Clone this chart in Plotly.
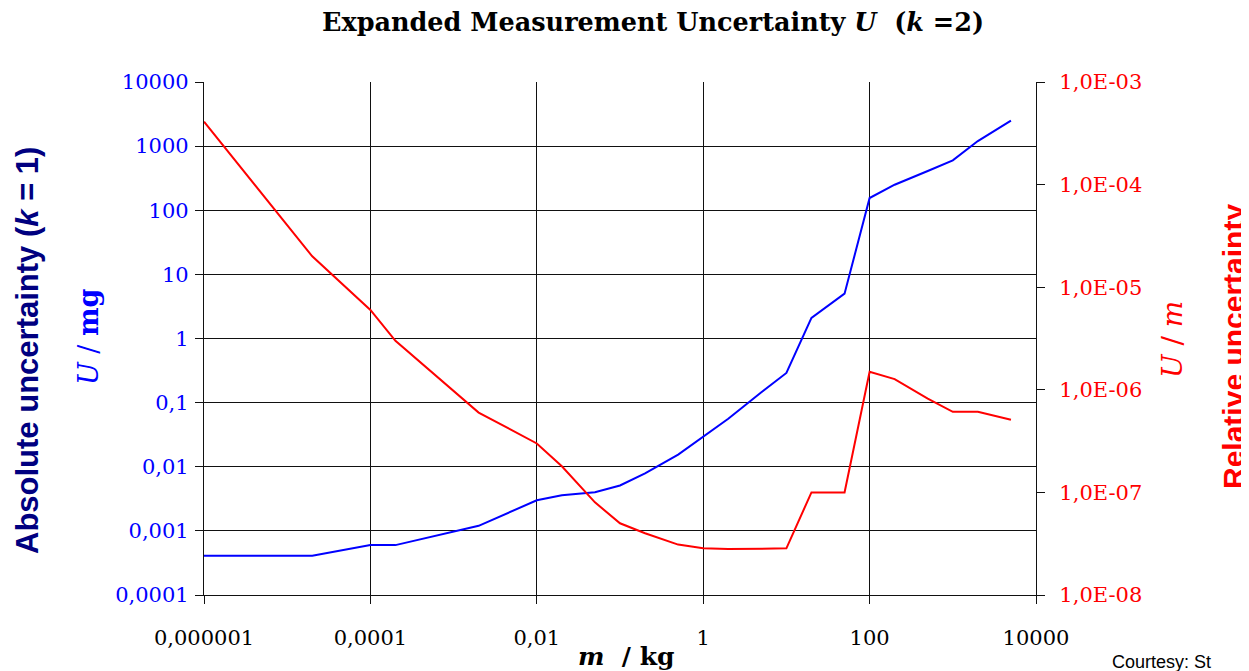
import plotly.graph_objects as go

# ---- data ----
mass_kg = [1e-6, 2e-5, 1e-4, 2e-4, 2e-3, 1e-2, 2e-2, 5e-2, 0.1, 0.2, 0.5, 1, 2, 5, 10,
           20, 50, 100, 200, 500, 1000, 2000, 5000]
abs_U_mg = [4.1e-4, 4.1e-4, 6e-4, 6e-4, 1.2e-3, 3e-3, 3.6e-3, 4e-3, 5.1e-3, 7.9e-3, 0.0155,
            0.029, 0.056, 0.145, 0.29, 2.1, 5, 155, 250, 410, 600, 1200, 2500]
rel_U = [4.1e-4, 2e-5, 6e-6, 3e-6, 6e-7, 3e-7, 1.8e-7, 8e-8, 5e-8, 4e-8, 3.1e-8,
         2.85e-8, 2.8e-8, 2.85e-8, 2.85e-8, 1e-7, 1e-7, 1.5e-6, 1.27e-6, 8.2e-7, 6.1e-7,
         6.1e-7, 5.1e-7]

x_tickvals = [1e-6, 1e-4, 1e-2, 1, 100, 1e4]
x_ticktext = ["0,000001", "0,0001", "0,01", "1", "100", "10000"]
y_tickvals = [1e-4, 1e-3, 1e-2, 1e-1, 1, 10, 100, 1000, 10000]
y_ticktext = ["0,0001", "0,001", "0,01", "0,1", "1", "10", "100", "1000", "10000"]
y2_tickvals = [1e-8, 1e-7, 1e-6, 1e-5, 1e-4, 1e-3]
y2_ticktext = ["1,0E-08", "1,0E-07", "1,0E-06", "1,0E-05", "1,0E-04", "1,0E-03"]

# page body has an 8px margin: work in window pixels and shift
OFF = 8
W, H = 1249, 671
pL, pR, pT, pB = 204, 1036, 82, 595          # plot area in window pixels
L, T = pL - OFF, pT - OFF
pw, ph = pR - pL, pB - pT
R, B = W - L - pw, H - T - ph

def px(x):
    return (x - pL) / pw

def py(y):
    return (pB - y) / ph

SERIF = "DejaVu Serif"
SANS = "Liberation Sans"
GRID = "#111"

fig = go.Figure()
fig.add_trace(go.Scatter(x=mass_kg, y=abs_U_mg, mode="lines",
                         line=dict(color="#0000FF", width=2), yaxis="y", showlegend=False))
fig.add_trace(go.Scatter(x=mass_kg, y=rel_U, mode="lines",
                         line=dict(color="#FF0000", width=2), yaxis="y2", showlegend=False))

fig.update_layout(
    width=W, height=H,
    margin=dict(l=L, r=R, t=T, b=B),
    paper_bgcolor="white", plot_bgcolor="white",
    xaxis=dict(type="log", range=[-6, 4], tickvals=x_tickvals, ticktext=x_ticktext,
               showgrid=True, gridcolor=GRID, gridwidth=1.3,
               showline=True, linecolor=GRID, linewidth=1.3,
               ticks="outside", ticklen=8, tickcolor=GRID, tickwidth=1.3,
               tickfont=dict(family=SERIF, size=21, color="black"),
               ticklabelstandoff=16, zeroline=False),
    yaxis=dict(type="log", range=[-4, 4], tickvals=y_tickvals, ticktext=y_ticktext,
               showgrid=True, gridcolor=GRID, gridwidth=1.3,
               showline=True, linecolor=GRID, linewidth=1.3,
               ticks="outside", ticklen=8, tickcolor=GRID, tickwidth=1.3,
               tickfont=dict(family=SERIF, size=21, color="#0000FF"),
               ticklabelstandoff=2, zeroline=False),
    yaxis2=dict(type="log", range=[-8, -3], tickvals=y2_tickvals, ticktext=y2_ticktext,
                overlaying="y", side="right", showgrid=False,
                showline=True, linecolor=GRID, linewidth=1.3,
                ticks="outside", ticklen=8, tickcolor=GRID, tickwidth=1.3,
                tickfont=dict(family=SERIF, size=21, color="#FF0000"),
                ticklabelstandoff=10, zeroline=False),
)

ann = [
    dict(text="<b>Expanded Measurement Uncertainty <i>U</i>  (<i>k</i> =2)</b>",
         x=px(653), y=py(22), font=dict(family=SERIF, size=25.5, color="black")),
    dict(text="<b>Absolute uncertainty (<i>k</i> = 1)</b>", x=px(27), y=py(351),
         textangle=-90, font=dict(family=SANS, size=31, color="#000080")),
    dict(text="<i>U</i> / <b>mg</b>", x=px(88), y=py(337),
         textangle=-90, font=dict(family=SERIF, size=27, color="#0000FF")),
    dict(text="<i>U</i> / <i>m</i>", x=px(1172), y=py(340),
         textangle=-90, font=dict(family=SERIF, size=28, color="#FF0000")),
    dict(text="<b>Relative uncertainty</b>", x=px(1233), y=py(347),
         textangle=-90, font=dict(family=SANS, size=30, color="#FF0000")),
    dict(text="<b><i>m</i>  / kg</b>", x=px(626), y=py(656),
         font=dict(family=SERIF, size=25, color="black")),
    dict(text="Courtesy: St", x=px(1110), y=py(650), xanchor="left", yanchor="top",
         font=dict(family=SANS, size=18, color="black")),
]
for a in ann:
    a.setdefault("xanchor", "center")
    a.setdefault("yanchor", "middle")
    a.update(xref="paper", yref="paper", showarrow=False)
fig.update_layout(annotations=ann)

fig.write_html("out.html")
